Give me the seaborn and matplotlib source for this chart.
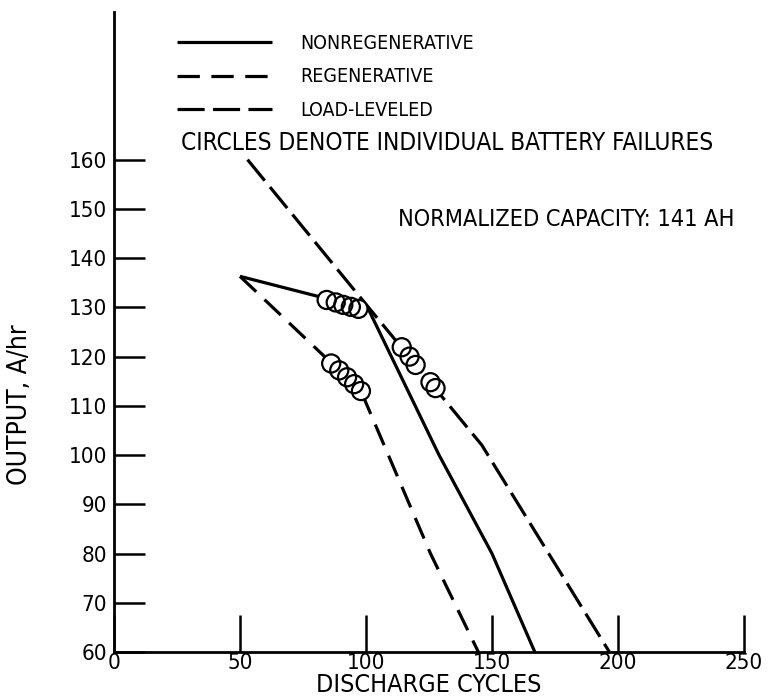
import matplotlib
matplotlib.use("Agg")
import matplotlib.pyplot as plt
import seaborn as sns
import pandas as pd

# ---- data -------------------------------------------------------------
cycles_nonregen = [50, 101, 129, 150, 167]
output_nonregen = [136.3, 129.6, 100, 80, 60]

cycles_regen = [50, 98, 125.6, 144.6]
output_regen = [136.3, 113, 80, 60]

cycles_load = [53, 101, 146, 196.6]
output_load = [160, 130, 102, 60]

fail_nonregen_x = [84.4, 88, 91, 94, 97]
fail_nonregen_y = [131.5, 131.0, 130.5, 130.1, 129.7]
fail_regen_x = [86.2, 89.4, 92.5, 95.3, 98]
fail_regen_y = [118.6, 117.2, 115.8, 114.4, 113.0]
fail_load_x = [114.2, 117.3, 119.7, 125.6, 127.6]
fail_load_y = [121.9, 120.0, 118.3, 114.8, 113.6]

x_ticks = [0, 50, 100, 150, 200, 250]
y_ticks = [60, 70, 80, 90, 100, 110, 120, 130, 140, 150, 160]

labels = ["NONREGENERATIVE", "REGENERATIVE", "LOAD-LEVELED"]

# ---- style ------------------------------------------------------------
sns.set_theme(style="white")
plt.rcParams["font.family"] = ["DejaVu Sans"]
plt.rcParams["font.stretch"] = "condensed"
for k in ["text.color", "axes.labelcolor", "xtick.color", "ytick.color"]:
    plt.rcParams[k] = "black"
FS = 16

fig = plt.figure(figsize=(7.68, 6.98), dpi=100)
ax = fig.add_axes([0.1484, 0.0659, 0.8203, 0.917])

LW = 2.3
styles = {
    labels[0]: None,
    labels[1]: (7.0, 3.6),
    labels[2]: (8.5, 2.6),
}

series = [
    (cycles_nonregen, output_nonregen, labels[0]),
    (cycles_regen, output_regen, labels[1]),
    (cycles_load, output_load, labels[2]),
]
for xs, ys, lab in series:
    df = pd.DataFrame({"cycles": xs, "output": ys})
    sns.lineplot(data=df, x="cycles", y="output", color="black", linewidth=LW,
                 sort=False, label=lab, ax=ax)
    l = ax.lines[-1]
    if styles[lab] is not None:
        l.set_dashes(styles[lab])
    l.set_solid_capstyle("butt")
    l.set_dash_capstyle("butt")

# failure circles
for fx, fy in [(fail_nonregen_x, fail_nonregen_y),
               (fail_regen_x, fail_regen_y),
               (fail_load_x, fail_load_y)]:
    fdf = pd.DataFrame({"x": fx, "y": fy})
    sns.scatterplot(data=fdf, x="x", y="y", s=170, color="white",
                    edgecolor="none", linewidth=0, ax=ax, zorder=3, legend=False)
    sns.scatterplot(data=fdf, x="x", y="y", s=170, facecolor="none",
                    edgecolor="black", linewidth=1.6, ax=ax, zorder=4, legend=False)

ax.set_xlim(0, 250)
ax.set_ylim(60, 190)
ax.set_xticks(x_ticks)
ax.set_yticks(y_ticks)
ax.set_xticklabels([str(v) for v in x_ticks], fontsize=FS)
ax.set_yticklabels([str(v) for v in y_ticks], fontsize=FS)
ax.tick_params(axis="x", direction="in", length=27, width=1.8, pad=1, color="black")
ax.tick_params(axis="y", direction="in", length=22, width=1.8, pad=5, color="black")
ax.tick_params(axis="x", which="major", bottom=True)
ax.tick_params(axis="y", which="major", left=True)

for side in ["top", "right"]:
    ax.spines[side].set_visible(False)
for side in ["left", "bottom"]:
    ax.spines[side].set_color("black")
    ax.spines[side].set_linewidth(2.0)

ax.set_xlabel("DISCHARGE CYCLES", fontsize=18, labelpad=0)
ax.set_ylabel("OUTPUT, A/hr", fontsize=19)
ax.yaxis.set_label_coords(-0.129, 0.386)

handles = ax.lines[:3]
ax.legend(handles, labels, loc="upper left", bbox_to_anchor=(0.1, 0.966),
          frameon=False, fontsize=14, handlelength=4.9, handletextpad=1.45,
          labelspacing=0.76, borderpad=0, borderaxespad=0)

ax.text(0.106, 0.795, "CIRCLES DENOTE INDIVIDUAL BATTERY FAILURES",
        transform=ax.transAxes, fontsize=17.5, va="center", ha="left")
ax.text(0.451, 0.675, "NORMALIZED CAPACITY: 141 AH",
        transform=ax.transAxes, fontsize=16.8, va="center", ha="left")

fig.savefig("out.png", dpi=100)
